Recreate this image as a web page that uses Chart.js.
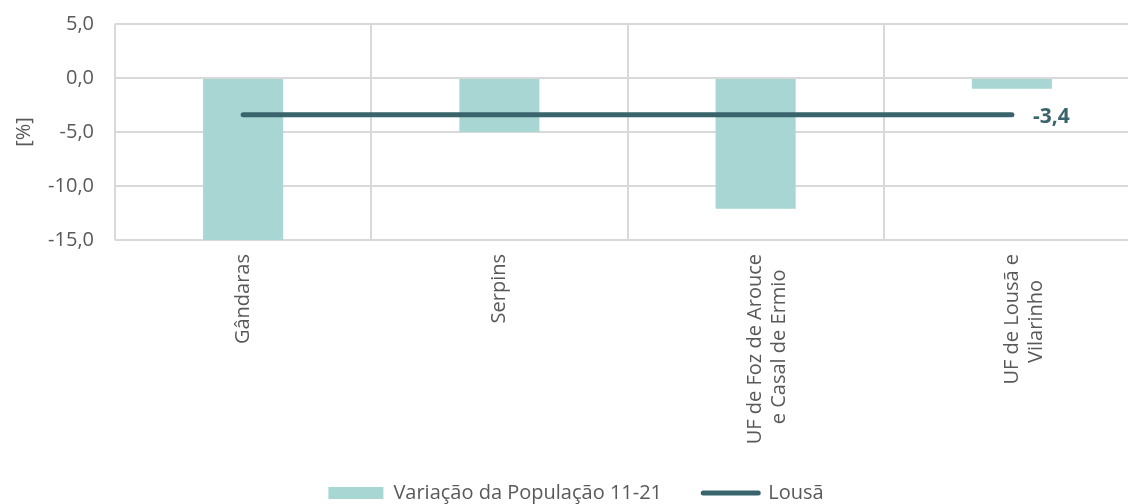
<!DOCTYPE html>
<html>
<head>
<meta charset="utf-8">
<script src="https://cdn.jsdelivr.net/npm/chart.js@4.4.0/dist/chart.umd.min.js"></script>
<style>
  html, body { margin: 0; padding: 0; background: #fff; overflow: hidden; }
  #clip { width: 1128px; height: 504px; overflow: hidden; position: relative; }
  #wrap { width: 1140px; height: 513px; position: absolute; left: 0; top: 0; }
</style>
</head>
<body>
<div id="clip"><div id="wrap"><canvas id="chart"></canvas></div></div>
<script>
// Dados do gráfico
const freguesias = [
    ['Gândaras'],
    ['Serpins'],
    ['UF de Foz de Arouce', 'e Casal de Ermio'],
    ['UF de Lousã e', 'Vilarinho']
];
const variacao = [-15.0, -5.0, -12.1, -1.0];
const lousa = [-3.4, -3.4, -3.4, -3.4];
const yTicks = [5, 0, -5, -10, -15];

const corBarra = '#A8D6D2';
const corLinha = '#3A646C';
const corTexto = '#595959';
const fonte = "'Open Sans', 'Noto Sans', sans-serif";

function fmt(v) {
    return v.toFixed(1).replace('.', ',');
}

// Centra as linhas de um rótulo rodado (o Chart.js alinha-as à direita)
const medidor = document.createElement('canvas').getContext('2d');
medidor.font = '20px ' + fonte;
function centrarLinhas(linhas) {
    if (linhas.length < 2) return linhas;
    const larguras = linhas.map(l => medidor.measureText(l).width);
    const maior = Math.max(...larguras);
    const esp = medidor.measureText('\u00A0').width;
    return linhas.map((l, i) => {
        const n = Math.round((maior - larguras[i]) / 2 / esp);
        return l + '\u00A0'.repeat(n);
    });
}

// Rótulo do valor no fim da linha
const rotuloLinha = {
    id: 'rotuloLinha',
    afterDatasetsDraw(chart) {
        const meta = chart.getDatasetMeta(1);
        const last = meta.data[meta.data.length - 1];
        const ctx = chart.ctx;
        ctx.save();
        ctx.font = 'bold 21px ' + fonte;
        ctx.fillStyle = corLinha;
        ctx.textAlign = 'left';
        ctx.textBaseline = 'middle';
        ctx.fillText(fmt(lousa[lousa.length - 1]), last.x + 21, last.y + 2);
        ctx.restore();
    }
};

const ctx = document.getElementById('chart').getContext('2d');
new Chart(ctx, {
    data: {
        labels: freguesias,
        datasets: [
            {
                type: 'bar',
                label: 'Variação da População 11-21',
                data: variacao,
                backgroundColor: corBarra,
                barPercentage: 0.3125,
                categoryPercentage: 1.0,
                order: 2
            },
            {
                type: 'line',
                label: 'Lousã',
                data: lousa,
                borderColor: corLinha,
                borderWidth: 5,
                borderCapStyle: 'round',
                pointRadius: 0,
                fill: false,
                order: 1
            }
        ]
    },
    options: {
        responsive: true,
        maintainAspectRatio: false,
        animation: false,
        layout: { padding: { top: 24, left: 12, right: 0, bottom: 0 } },
        plugins: {
            tooltip: { enabled: false },
            legend: {
                position: 'bottom',
                labels: {
                    color: corTexto,
                    font: { family: fonte, size: 20 },
                    usePointStyle: true,
                    pointStyleWidth: 55,
                    boxHeight: 12,
                    padding: 10,
                    generateLabels() {
                        return [
                            {
                                // espaços no fim para afastar o segundo item
                                text: 'Variação da População 11-21\u00A0\u00A0\u00A0\u00A0\u00A0\u00A0',
                                fillStyle: corBarra,
                                strokeStyle: corBarra,
                                lineWidth: 0,
                                pointStyle: 'rect',
                                fontColor: corTexto,
                                datasetIndex: 0
                            },
                            {
                                text: 'Lousã',
                                fillStyle: corLinha,
                                strokeStyle: corLinha,
                                lineWidth: 5,
                                lineCap: 'round',
                                pointStyle: 'line',
                                fontColor: corTexto,
                                datasetIndex: 1
                            }
                        ];
                    }
                }
            }
        },
        scales: {
            x: {
                grid: { color: '#D9D9D9', lineWidth: 2, offset: true, drawTicks: false },
                border: { display: false },
                ticks: {
                    color: corTexto,
                    font: { family: fonte, size: 20 },
                    maxRotation: 90,
                    minRotation: 90,
                    padding: 14,
                    callback: (v, i) => centrarLinhas(freguesias[i])
                },
                afterFit(scale) { scale.height = 233; }
            },
            y: {
                min: -15,
                max: 5,
                afterBuildTicks(scale) {
                    scale.ticks = yTicks.map(v => ({ value: v }));
                },
                grid: { color: '#D9D9D9', lineWidth: 2, drawTicks: false },
                border: { display: false },
                title: {
                    display: true,
                    text: '[%]',
                    color: corTexto,
                    font: { family: fonte, size: 20 },
                    padding: { top: 0, bottom: 0 }
                },
                ticks: {
                    color: corTexto,
                    font: { family: fonte, size: 20 },
                    padding: 21,
                    callback: v => fmt(v)
                },
                afterFit(scale) {
                    scale.width = 103;
                    scale.paddingTop = 0;
                    scale.paddingBottom = 0;
                }
            }
        }
    },
    plugins: [rotuloLinha]
});
</script>
</body>
</html>
